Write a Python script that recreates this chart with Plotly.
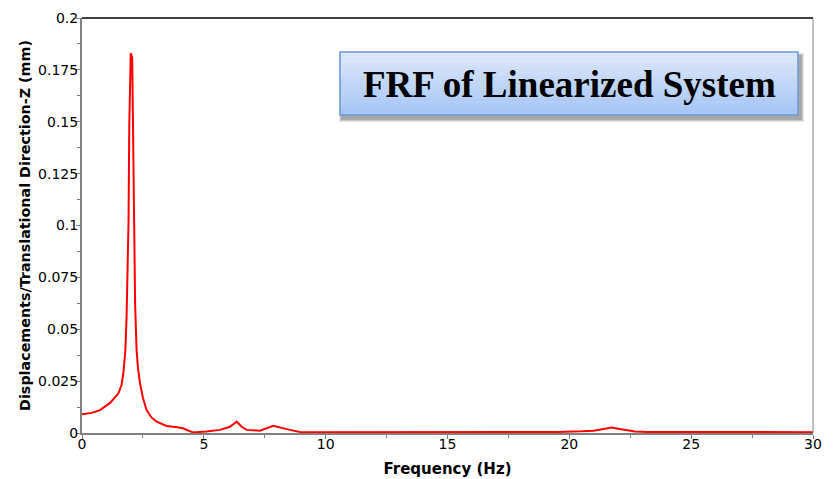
import plotly.graph_objects as go

# Frequency response of the linearized system (Z displacement)
freq_hz = [0.0, 0.4, 0.74, 1.15, 1.49, 1.62, 1.70, 1.78, 1.83, 1.88, 1.91, 1.94, 2.0, 2.06, 2.1,
           2.13, 2.18, 2.24, 2.3, 2.38, 2.5, 2.65, 2.85, 3.06, 3.47, 3.9, 4.15, 4.35, 4.56,
           5.1, 5.66, 6.07, 6.35, 6.55, 6.76, 7.3, 7.85, 8.53, 8.95, 10.0, 12.0, 14.0, 16.0,
           18.0, 19.5, 20.5, 21.0, 21.4, 21.73, 22.0, 22.3, 22.7, 23.2, 25.0, 27.0, 30.0]
disp_mm = [0.0090, 0.0097, 0.0110, 0.0145, 0.0190, 0.0230, 0.0290, 0.0400, 0.0560, 0.0800,
           0.1020, 0.1480, 0.1830, 0.1810, 0.1350, 0.0900, 0.0620, 0.0400, 0.0310, 0.0240,
           0.0170, 0.0110, 0.0075, 0.0055, 0.0034, 0.0028, 0.0023, 0.0012, 0.0003, 0.0007,
           0.0015, 0.0030, 0.0055, 0.0030, 0.0015, 0.0011, 0.0035, 0.0015, 0.0005, 0.0004,
           0.0004, 0.0004, 0.0004, 0.0004, 0.0005, 0.0008, 0.0011, 0.0019, 0.0026, 0.0021,
           0.0014, 0.0007, 0.0005, 0.0004, 0.0004, 0.0004]

y_ticks = [0, 0.025, 0.05, 0.075, 0.1, 0.125, 0.15, 0.175, 0.2]
y_tick_labels = ["0", "0.025", "0.05", "0.075", "0.1", "0.125", "0.15", "0.175", "0.2"]
x_ticks = [0, 5, 10, 15, 20, 25, 30]
x_tick_labels = ["0", "5", "10", "15", "20", "25", "30"]

W, H = 834, 479
ML, MR, MT, MB = 82, 21, 18, 46
PW, PH = W - ML - MR, H - MT - MB


def px(x):
    return (x - ML) / PW


def py(y):
    return 1 - (y - MT) / PH


fig = go.Figure()
fig.add_trace(go.Scatter(x=freq_hz, y=disp_mm, mode="lines",
                         line=dict(color="#ff0000", width=2), showlegend=False))

axis_font = dict(family="DejaVu Sans", size=14, color="#000000")

fig.update_layout(
    width=W, height=H,
    margin=dict(l=ML, r=MR, t=MT, b=MB, autoexpand=False),
    paper_bgcolor="white", plot_bgcolor="white",
    xaxis=dict(range=[0, 30], tickvals=x_ticks, ticktext=x_tick_labels, automargin=False,
               showgrid=False, zeroline=False, showline=True, linecolor="#808080",
               linewidth=2, ticks="outside", ticklen=4, tickcolor="#808080",
               tickfont=axis_font, ticklabelstandoff=-7,
               minor=dict(dtick=2.5, ticks="outside", ticklen=3, tickcolor="#808080"),
               title=dict(text="<b>Frequency (Hz)</b>",
                          font=dict(family="DejaVu Sans", size=15, color="#000000"),
                          standoff=13)),
    yaxis=dict(range=[0, 0.2], tickvals=y_ticks, ticktext=y_tick_labels, automargin=False,
               showgrid=False, zeroline=False, showline=True, linecolor="#808080",
               linewidth=2, ticks="outside", ticklen=4, tickcolor="#808080",
               tickfont=axis_font, ticklabelstandoff=-5,
               minor=dict(tickvals=[0.0125 + 0.025 * i for i in range(8)],
                          ticks="outside", ticklen=3, tickcolor="#808080"),
               title=dict(text="<b>Displacements/Translational Direction-Z (mm)</b>",
                          font=dict(family="DejaVu Sans", size=14.3, color="#000000"),
                          standoff=4)),
)

shapes = [
    dict(type="line", xref="paper", yref="paper", x0=0, x1=1, y0=1, y1=1,
         line=dict(color="#000000", width=1.5)),
    dict(type="line", xref="paper", yref="paper", x0=1, x1=1, y0=0, y1=1,
         line=dict(color="#808080", width=1)),
]

# Title box: soft drop shadow, vertical blue gradient, blue border
bx0, bx1, by0, by1 = 340, 798, 52, 115
for i, op in enumerate([0.10, 0.12, 0.16]):
    d = 3 - i
    shapes.append(dict(type="rect", xref="paper", yref="paper",
                       x0=px(bx0 + 2 - d), x1=px(bx1 + 3 + d),
                       y0=py(by1 + 4 + d), y1=py(by0 + 4 - d),
                       fillcolor=f"rgba(0,0,0,{op})", line=dict(width=0), layer="above"))
n = 40
top, bot = (222, 233, 251), (166, 197, 246)
for i in range(n):
    t = i / (n - 1)
    c = tuple(round(top[k] + (bot[k] - top[k]) * t) for k in range(3))
    ya = by0 + (by1 - by0) * i / n
    yb = by0 + (by1 - by0) * (i + 1) / n + 0.5
    shapes.append(dict(type="rect", xref="paper", yref="paper",
                       x0=px(bx0), x1=px(bx1), y0=py(min(yb, by1)), y1=py(ya),
                       fillcolor=f"rgb{c}", line=dict(width=0), layer="above"))
shapes.append(dict(type="rect", xref="paper", yref="paper",
                   x0=px(bx0), x1=px(bx1), y0=py(by1), y1=py(by0),
                   fillcolor="rgba(0,0,0,0)", line=dict(color="#6a98d8", width=1.5),
                   layer="above"))
fig.update_layout(shapes=shapes)

fig.add_annotation(xref="paper", yref="paper", x=px((bx0 + bx1) / 2), y=py((by0 + by1) / 2 + 1),
                   text="<b>FRF of Linearized System</b>", showarrow=False,
                   font=dict(family="Liberation Serif", size=37, color="#000000"),
                   xanchor="center", yanchor="middle")

fig.write_html("out.html")
